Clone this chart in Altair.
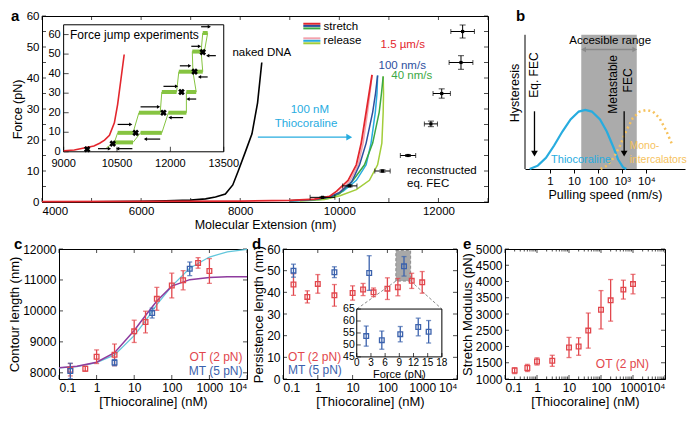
import altair as alt
import pandas as pd

FONT = "Liberation Sans"
RED = "#e3262d"; BLUE = "#2d4f9e"; GREEN = "#3ba844"; PINK = "#f4a3ad"
CYAN = "#27acdf"; YGREEN = "#a2cd3a"; JUMP = "#86c441"; PRED = "#e2474d"
PBLUE = "#3b62ad"; ORANGE = "#f6c25d"; PURPLE = "#8e3b9e"; FITCYAN = "#63c7dc"

# ---------------- panel a : force-extension curves ----------------
naked_ext = [4000, 5000, 6000, 6500, 7000, 7300, 7500, 7700, 7850, 7960, 8100, 8237, 8350, 8435]
naked_F = [0.0, 0.1, 0.2, 0.35, 0.6, 1.0, 1.6, 2.6, 5.5, 10, 16, 22, 32, 45]
red_ext = [4000, 6000, 8000, 9000, 9500, 9800, 9947, 10178, 10343, 10442, 10541, 10610, 10660]
red_F = [0.1, 0.2, 0.3, 0.5, 0.9, 1.8, 3.5, 7, 12, 19, 29, 36, 41]
blue_ext = [9000, 9500, 9800, 10000, 10250, 10409, 10541, 10673, 10730, 10772]
blue_F = [0.4, 0.8, 1.6, 3.0, 6.5, 12, 19, 29, 35, 40.8]
green_ext = [9000, 9500, 9800, 10000, 10277, 10508, 10673, 10805, 10850, 10885]
green_F = [0.4, 0.8, 1.5, 2.6, 7, 12, 19, 29, 35, 40.5]
pink_ext = [9000, 9500, 9800, 10000, 10220, 10380, 10480, 10570, 10625, 10660]
pink_F = [0.3, 0.7, 1.5, 3.2, 7, 12, 19, 29, 36, 41]
cyan_ext = [9000, 9500, 9800, 10079, 10343, 10541, 10640, 10726, 10760, 10772]
cyan_F = [0.3, 0.6, 1.2, 3.5, 7, 12, 19, 29, 35, 40.8]
ygreen_ext = [9200, 9700, 10013, 10343, 10607, 10772, 10858, 10885, 10892, 10885]
ygreen_F = [0.3, 0.8, 2, 4, 7, 12, 19, 29, 35, 40.5]

eq_ext = [9660, 10211, 10871, 11386, 11848, 12066, 12455, 12488]
eq_F = [1.5, 5.2, 10, 15, 25.2, 35, 45, 55]
eq_xerr = [250, 145, 155, 155, 132, 175, 240, 238]
eq_yerr = [0.2, 0.3, 0.4, 0.3, 0.9, 1.5, 2.2, 2.1]

leg_colors = [RED, BLUE, GREEN, PINK, CYAN, YGREEN]
leg_F = [57.5, 56.8, 56.0, 52.8, 52.0, 51.2]
leg_x1 = [9273] * 6
leg_x2 = [9618] * 6

a_text = ["naked DNA", "stretch", "release", "1.5 µm/s", "100 nm/s", "40 nm/s", "reconstructed", "eq. FEC"]
a_text_x = [7842, 9683, 9683, 10832, 10792, 11050, 11366, 11366]
a_text_y = [48, 56.6, 52.0, 50.7, 44, 40.5, 10.1, 5.9]
a_text_c = ["black", "black", "black", RED, BLUE, GREEN, "black", "black"]
a_ctext = ["100 nM", "Thiocoraline"]
a_ctext_x = [9406, 9327]
a_ctext_y = [29.6, 25.1]
a_arrow_x = [8356, 10200]
a_arrow_F = 20.9
a_xticks = [4000, 5000, 6000, 7000, 8000, 9000, 10000, 11000, 12000, 13000]
a_yticks = [0, 5, 10, 15, 20, 25, 30, 35, 40, 45, 50, 55, 60]

# inset of panel a (force jump experiments)
ins_red_ext = [9000, 9300, 9607, 9850, 10012, 10150, 10288, 10426, 10518, 10610, 10702]
ins_red_F = [0.5, 0.9, 2.1, 3.0, 4.4, 6.0, 8.4, 14.8, 24.3, 37, 49.8]
jump_x = [10200, 10426, 10518, 10950, 11116, 11714, 11760, 12174, 12238, 12634, 12616, 12864, 12910,
          13048, 12956, 12864, 12910, 12634, 12726, 12450, 12450, 11944, 11760, 11162, 10950, 10426]
jump_F = [2.0, 4.8, 9.7, 9.7, 20, 20, 30.6, 30.6, 41, 41, 51.3, 51.3, 60.8,
          60.8, 51.3, 51.3, 41, 41, 30.6, 30.6, 20, 20, 9.7, 9.7, 4.8, 4.8]
plat_F = [4.8, 9.7, 9.7, 20, 20, 30.6, 30.6, 41, 41, 51.3, 51.3, 60.8]
plat_x1 = [10426, 10518, 11162, 11116, 11944, 11760, 12450, 12238, 12634, 12616, 12864, 12910]
plat_x2 = [10950, 10950, 11760, 11714, 12450, 12174, 12726, 12634, 12910, 12864, 12956, 13048]
cross_x = [9662, 10380, 11024, 11806, 12312, 12680, 12910]
cross_F = [1.3, 4.2, 9.7, 20, 30.6, 41, 51]
rarr_x1 = [9966, 10518, 11162, 11806, 12266, 12588, 12864]
rarr_x2 = [10288, 10886, 11668, 12174, 12542, 12818, 13094]
rarr_F = [1.6, 14, 23, 33.5, 44, 54, 64]
larr_x1 = [10518, 11300, 11990, 12496, 12818, 13048]
larr_x2 = [10932, 11714, 12358, 12726, 13048, 13278]
larr_F = [1.6, 6.5, 17.5, 27, 38.3, 49.2]
ins_xticks = [9000, 10500, 12000, 13500]
ins_yticks = [0, 10, 20, 30, 40, 50, 60]

# ---------------- panel b : schematic ----------------
thio_v = [0.145, 0.316, 0.69, 1.5, 3.3, 7.2, 15.8, 29.5, 55, 120, 229, 427, 676, 1070, 1480]
thio_h = [0.0, 0.025, 0.083, 0.175, 0.279, 0.37, 0.428, 0.44, 0.428, 0.37, 0.279, 0.164, 0.071, 0.014, 0.0]
mono_v = [126, 234, 437, 813, 1510, 2750, 5370, 10000, 18600, 34700, 64600, 115000]
mono_h = [0.0, 0.025, 0.083, 0.175, 0.29, 0.38, 0.428, 0.44, 0.428, 0.38, 0.29, 0.186]
band_v = [20, 4000]
range_v = [25, 3300]
range_h = 0.89
down_arrow_v = [0.23, 1200]
down_arrow_h = [0.43, 0.115]

# ---------------- panels c, d, e ----------------
conc_ot = [0.2, 0.5, 1, 3, 10, 20, 40, 100, 200, 500, 1000]
conc_mt = [0.2, 3, 30, 300]
c_ot = [8100, 8130, 8520, 8580, 9340, 9640, 10390, 10820, 10990, 11550, 11290]
c_ot_err = [200, 80, 220, 350, 360, 350, 370, 400, 310, 170, 400]
c_mt = [8060, 8330, 9930, 11360]
c_mt_err = [250, 100, 160, 220]
fit_x = [0.1, 0.3, 1, 3, 10, 20, 40, 100, 300, 1000, 3000, 10000]
fit_cyan = [8160, 8200, 8330, 8580, 9200, 9680, 10200, 10800, 11380, 11740, 11910, 11990]
fit_purple = [8160, 8210, 8340, 8650, 9370, 9850, 10320, 10800, 11010, 11080, 11100, 11100]

d_ot = [43.6, 37.9, 43.9, 38.6, 39.7, 41.3, 40.0, 41.7, 42.4, 45.3, 44.6]
d_ot_err = [5, 2.8, 4.3, 5, 3.3, 2.8, 2, 5, 4, 3.5, 5]
d_mt = [50, 49.3, 48.9, 52]
d_mt_err = [3, 2.5, 8, 4.5]
ins_force = [2, 5.3, 9.2, 13, 15.2]
ins_lp = [53.7, 52, 54.5, 57.5, 55.5]
ins_lp_err = [4.2, 3.8, 3.2, 3.7, 4.7]
ins_d_xticks = [0, 3, 6, 9, 12, 15, 18]
ins_d_yticks = [45, 50, 55, 60, 65]
hl_x = [175, 465]
hl_y = [45.2, 59.3]
link_x1 = [175, 465]
link_x2 = [13.2, 3670]
link_y1 = 45.2
link_y2 = 32.3

e_ot = [1260, 1340, 1540, 1560, 1970, 2000, 2490, 3130, 3420, 3750, 3920]
e_ot_err = [90, 110, 110, 170, 310, 270, 540, 590, 640, 290, 300]

conc_ticks = [0.1, 1, 10, 100, 1000, 10000]
conc_minor = [m * d for d in [0.1, 1, 10, 100, 1000] for m in range(2, 10)]
c_yticks = [8000, 9000, 10000, 11000, 12000]
d_yticks = [0, 10, 20, 30, 40, 50, 60]
e_yticks = [1000, 1500, 2000, 2500, 3000, 3500, 4000, 4500, 5000]


# ======================= helpers =======================
def ldf(xs, ys):
    return pd.DataFrame({"x": xs, "y": ys, "o": list(range(len(xs)))})


def letter(t, dx, dy):
    return alt.Chart(pd.DataFrame({"t": [t]})).mark_text(
        font=FONT, fontSize=15, fontWeight="bold", align="left", baseline="middle"
    ).encode(x=alt.value(dx), y=alt.value(dy), text="t:N")


def frame_ticks(xvals, yvals, xlo, xhi, ylo, yhi, X, Y, size=4):
    h = size / 2
    bx_ = pd.DataFrame({"x": xvals, "y": [ylo] * len(xvals)})
    tx_ = pd.DataFrame({"x": xvals, "y": [yhi] * len(xvals)})
    ly_ = pd.DataFrame({"x": [xlo] * len(yvals), "y": yvals})
    ry_ = pd.DataFrame({"x": [xhi] * len(yvals), "y": yvals})
    kw = dict(color="black", thickness=1, size=size)
    out = []
    if xvals:
        out += [alt.Chart(bx_).mark_tick(orient="vertical", yOffset=-h, **kw).encode(x=X("x"), y=Y("y")),
                alt.Chart(tx_).mark_tick(orient="vertical", yOffset=h, **kw).encode(x=X("x"), y=Y("y"))]
    if yvals:
        out += [alt.Chart(ly_).mark_tick(orient="horizontal", xOffset=h, **kw).encode(x=X("x"), y=Y("y")),
                alt.Chart(ry_).mark_tick(orient="horizontal", xOffset=-h, **kw).encode(x=X("x"), y=Y("y"))]
    return out


# ---------------- panel a ----------------
WA, HA = 446, 186
XA = alt.Scale(domain=[4000, 13000], nice=False, zero=False)
YA = alt.Scale(domain=[0, 60], nice=False, zero=False)
AXX = alt.Axis(values=[4000, 6000, 8000, 10000, 12000], format="d", title="Molecular Extension (nm)",
               labelFontSize=11.5, titleFontSize=12.5, ticks=False, labelPadding=3, titlePadding=2)
AXY = alt.Axis(values=[0, 10, 20, 30, 40, 50, 60], title="Force (pN)", labelFontSize=11.5, titleFontSize=12.5,
               ticks=False, labelPadding=3, titlePadding=2)


def ax(f):
    return alt.X(f + ":Q", scale=XA, axis=AXX)


def ay(f):
    return alt.Y(f + ":Q", scale=YA, axis=AXY)


def aline(xs, ys, color, w=1.5):
    return alt.Chart(ldf(xs, ys)).mark_line(color=color, strokeWidth=w).encode(x=ax("x"), y=ay("y"), order="o:Q")


eqdf = pd.DataFrame({"x": eq_ext, "y": eq_F,
                     "xlo": [a - b for a, b in zip(eq_ext, eq_xerr)], "xhi": [a + b for a, b in zip(eq_ext, eq_xerr)],
                     "ylo": [a - b for a, b in zip(eq_F, eq_yerr)], "yhi": [a + b for a, b in zip(eq_F, eq_yerr)]})
legdf = pd.DataFrame({"x": leg_x1, "x2": leg_x2, "y": leg_F, "c": leg_colors})
atdf = pd.DataFrame({"x": a_text_x, "y": a_text_y, "t": a_text, "c": a_text_c})
actdf = pd.DataFrame({"x": a_ctext_x, "y": a_ctext_y, "t": a_ctext})
arrdf = pd.DataFrame({"x": [a_arrow_x[0]], "x2": [a_arrow_x[1]], "y": [a_arrow_F]})
arrhead = pd.DataFrame({"x": [a_arrow_x[1]], "y": [a_arrow_F]})

main_a = alt.layer(
    *frame_ticks(a_xticks, a_yticks, 4000, 13000, 0, 60, ax, ay),
    aline(naked_ext, naked_F, "black", 1.6),
    aline(pink_ext, pink_F, PINK),
    aline(cyan_ext, cyan_F, CYAN),
    aline(ygreen_ext, ygreen_F, YGREEN),
    aline(green_ext, green_F, GREEN),
    aline(blue_ext, blue_F, BLUE),
    aline(red_ext, red_F, RED, 1.8),
    alt.Chart(eqdf).mark_rule(color="black", strokeWidth=1).encode(x=ax("xlo"), x2="xhi:Q", y=ay("y")),
    alt.Chart(eqdf).mark_rule(color="black", strokeWidth=1).encode(x=ax("x"), y=ay("ylo"), y2="yhi:Q"),
    alt.Chart(eqdf).mark_tick(color="black", orient="vertical", size=5, thickness=1).encode(x=ax("xlo"), y=ay("y")),
    alt.Chart(eqdf).mark_tick(color="black", orient="vertical", size=5, thickness=1).encode(x=ax("xhi"), y=ay("y")),
    alt.Chart(eqdf).mark_tick(color="black", orient="horizontal", size=6, thickness=1).encode(x=ax("x"), y=ay("ylo")),
    alt.Chart(eqdf).mark_tick(color="black", orient="horizontal", size=6, thickness=1).encode(x=ax("x"), y=ay("yhi")),
    alt.Chart(eqdf).mark_square(color="black", size=10, opacity=1).encode(x=ax("x"), y=ay("y")),
    alt.Chart(legdf).mark_rule(strokeWidth=2).encode(x=ax("x"), x2="x2:Q", y=ay("y"), color=alt.Color("c:N", scale=None)),
    alt.Chart(atdf).mark_text(font=FONT, fontSize=11.5, align="left", baseline="middle").encode(
        x=ax("x"), y=ay("y"), text="t:N", color=alt.Color("c:N", scale=None)),
    alt.Chart(actdf).mark_text(font=FONT, fontSize=11.5, align="center", baseline="middle", color=CYAN).encode(
        x=ax("x"), y=ay("y"), text="t:N"),
    alt.Chart(arrdf).mark_rule(color=CYAN, strokeWidth=1.3).encode(x=ax("x"), x2="x2:Q", y=ay("y")),
    alt.Chart(arrhead).mark_point(shape="triangle-right", filled=True, color=CYAN, size=45, opacity=1).encode(
        x=ax("x"), y=ay("y")),
    letter("a", -31, 0),
)

XI = alt.Scale(domain=[8392, 20927], nice=False, zero=False)
YI = alt.Scale(domain=[-25.7, 69.5], nice=False, zero=False)


def ix(f):
    return alt.X(f + ":Q", scale=XI, axis=None)


def iy(f):
    return alt.Y(f + ":Q", scale=YI, axis=None)


boxdf = pd.DataFrame({"x": [9000], "x2": [13500], "y": [0], "y2": [65]})
ixt = pd.DataFrame({"x": ins_xticks, "y": [0] * 4, "t": [str(v) for v in ins_xticks]})
iyt = pd.DataFrame({"x": [9000] * 7, "y": ins_yticks, "t": [str(v) for v in ins_yticks]})
platdf = pd.DataFrame({"x": plat_x1, "x2": plat_x2, "y": plat_F})
rdf = pd.DataFrame({"x": rarr_x1, "x2": rarr_x2, "y": rarr_F})
ldf_ = pd.DataFrame({"x": larr_x1, "x2": larr_x2, "y": larr_F})
crossdf = pd.DataFrame({"x": cross_x, "y": cross_F})

inset_a = alt.layer(
    alt.Chart(boxdf).mark_rect(fill="white", stroke="black", strokeWidth=1).encode(
        x=ix("x"), x2="x2:Q", y=iy("y"), y2="y2:Q"),
    alt.Chart(iyt).mark_tick(orient="horizontal", size=5, thickness=1, color="black", xOffset=2.5).encode(
        x=ix("x"), y=iy("y")),
    alt.Chart(ixt).mark_tick(orient="vertical", size=5, thickness=1, color="black", yOffset=-2.5).encode(
        x=ix("x"), y=iy("y")),
    alt.Chart(iyt).mark_text(font=FONT, fontSize=11, align="right", baseline="middle", dx=-3).encode(
        x=ix("x"), y=iy("y"), text="t:N"),
    alt.Chart(ixt).mark_text(font=FONT, fontSize=11, align="center", baseline="top", dy=6).encode(
        x=ix("x"), y=iy("y"), text="t:N"),
    alt.Chart(ldf(ins_red_ext, ins_red_F)).mark_line(color=RED, strokeWidth=1.6).encode(
        x=ix("x"), y=iy("y"), order="o:Q"),
    alt.Chart(ldf(jump_x, jump_F)).mark_line(color=JUMP, strokeWidth=1).encode(x=ix("x"), y=iy("y"), order="o:Q"),
    alt.Chart(platdf).mark_rule(color=JUMP, strokeWidth=4).encode(x=ix("x"), x2="x2:Q", y=iy("y")),
    alt.Chart(rdf).mark_rule(color="black", strokeWidth=1.2).encode(x=ix("x"), x2="x2:Q", y=iy("y")),
    alt.Chart(rdf).mark_point(shape="triangle-right", filled=True, color="black", size=14, opacity=1).encode(
        x=ix("x2"), y=iy("y")),
    alt.Chart(ldf_).mark_rule(color="black", strokeWidth=1.2).encode(x=ix("x"), x2="x2:Q", y=iy("y")),
    alt.Chart(ldf_).mark_point(shape="triangle-left", filled=True, color="black", size=14, opacity=1).encode(
        x=ix("x"), y=iy("y")),
    alt.Chart(crossdf).mark_point(shape="cross", angle=45, filled=True, color="black", size=45, opacity=1).encode(
        x=ix("x"), y=iy("y")),
    alt.Chart(pd.DataFrame({"x": [9180], "y": [60], "t": ["Force jump experiments"]})).mark_text(
        font=FONT, fontSize=12, align="left", baseline="middle").encode(x=ix("x"), y=iy("y"), text="t:N"),
)

panel_a = alt.layer(main_a, inset_a).resolve_scale(x="independent", y="independent").properties(
    width=WA, height=HA)

# ---------------- panel b ----------------
XB = alt.Scale(type="log", domain=[0.093, 400000], nice=False)
YB = alt.Scale(domain=[0, 1.14], nice=False, zero=False)
BAXX = alt.Axis(values=[1, 10, 100, 1000, 10000], title="Pulling speed (nm/s)", labelFontSize=11.5,
                titleFontSize=12.5, titlePadding=2, tickSize=4, labelPadding=2,
                labelExpr="datum.value == 1000 ? '10³' : datum.value == 10000 ? '10⁴' : format(datum.value, 'd')")
BAXY = alt.Axis(labels=False, ticks=False, domain=False, title="Hysteresis", titleFontSize=12.5, titlePadding=4)


def bx(f):
    return alt.X(f + ":Q", scale=XB, axis=BAXX)


def by(f):
    return alt.Y(f + ":Q", scale=YB, axis=BAXY)


banddf = pd.DataFrame({"x": [band_v[0]], "x2": [band_v[1]], "y": [0], "y2": [1]})
rangedf = pd.DataFrame({"x": [range_v[0]], "x2": [range_v[1]], "y": [range_h]})
dadf = pd.DataFrame({"x": down_arrow_v, "y": [down_arrow_h[0]] * 2, "y2": [down_arrow_h[1]] * 2})
btxt_rot = pd.DataFrame({"x": [0.23, 427, 1740], "y": [0.70, 0.63, 0.66], "t": ["Eq. FEC", "Metastable", "FEC"]})

panel_b = alt.layer(
    alt.Chart(pd.DataFrame({"y": [0], "y2": [1]})).mark_rule(color="black", strokeWidth=1).encode(
        x=alt.value(0), y=by("y"), y2="y2:Q"),
    alt.Chart(banddf).mark_rect(color="#ababab").encode(x=bx("x"), x2="x2:Q", y=by("y"), y2="y2:Q"),
    alt.Chart(rangedf).mark_rule(color="#8a8a8a", strokeWidth=1.5).encode(x=bx("x"), x2="x2:Q", y=by("y")),
    alt.Chart(rangedf).mark_point(shape="triangle-left", filled=True, color="#8a8a8a", size=30, opacity=1).encode(
        x=bx("x"), y=by("y")),
    alt.Chart(rangedf).mark_point(shape="triangle-right", filled=True, color="#8a8a8a", size=30, opacity=1).encode(
        x=bx("x2"), y=by("y")),
    alt.Chart(pd.DataFrame({"x": [316], "y": [0.955], "t": ["Accesible range"]})).mark_text(
        font=FONT, fontSize=11.5, baseline="middle").encode(x=bx("x"), y=by("y"), text="t:N"),
    alt.Chart(ldf(thio_v, thio_h)).mark_line(color=CYAN, strokeWidth=2.2).encode(x=bx("x"), y=by("y"), order="o:Q"),
    alt.Chart(ldf(mono_v, mono_h)).mark_line(color=ORANGE, strokeWidth=2.5, strokeDash=[2, 3]).encode(
        x=bx("x"), y=by("y"), order="o:Q"),
    alt.Chart(dadf).mark_rule(color="black", strokeWidth=1.3).encode(x=bx("x"), y=by("y"), y2="y2:Q"),
    alt.Chart(dadf).mark_point(shape="triangle-down", filled=True, color="black", size=45, opacity=1).encode(
        x=bx("x"), y=by("y2")),
    alt.Chart(btxt_rot).mark_text(font=FONT, fontSize=12, angle=270, baseline="middle").encode(
        x=bx("x"), y=by("y"), text="t:N"),
    alt.Chart(pd.DataFrame({"x": [19.5], "y": [0.07], "t": ["Thiocoraline"]})).mark_text(
        font=FONT, fontSize=11, baseline="middle", color=CYAN).encode(x=bx("x"), y=by("y"), text="t:N"),
    alt.Chart(pd.DataFrame({"x": [2000, 2000], "y": [0.17, 0.07], "t": ["Mono-", "intercalators"]})).mark_text(
        font=FONT, fontSize=10.5, baseline="middle", align="left", color=ORANGE).encode(
        x=bx("x"), y=by("y"), text="t:N"),
    letter("b", -9, 0),
).properties(width=160, height=153, view=alt.ViewBackground(stroke="transparent"))

# ---------------- panels c, d, e ----------------
HB = 130
LOGS = alt.Scale(type="log", domain=[0.1, 10000], nice=False)
LEXPR = "datum.value >= 9999 ? '10⁴' : datum.value < 0.5 ? '0.1' : format(datum.value, 'd')"


def log_axis():
    return alt.Axis(values=conc_ticks, labelExpr=LEXPR, title="[Thiocoraline] (nM)",
                    labelFontSize=12, titleFontSize=13, ticks=False, labelPadding=3, titlePadding=2)


def err_layers(xs, ys, es, color, X, Y):
    df = pd.DataFrame({"x": xs, "y": ys, "lo": [a - b for a, b in zip(ys, es)],
                       "hi": [a + b for a, b in zip(ys, es)]})
    return [
        alt.Chart(df).mark_rule(color=color, strokeWidth=1.3).encode(x=X("x"), y=Y("lo"), y2="hi:Q"),
        alt.Chart(df).mark_tick(color=color, orient="horizontal", size=5, thickness=1.3).encode(x=X("x"), y=Y("lo")),
        alt.Chart(df).mark_tick(color=color, orient="horizontal", size=5, thickness=1.3).encode(x=X("x"), y=Y("hi")),
        alt.Chart(df).mark_point(shape="square", color=color, filled=False, size=22, strokeWidth=1.3,
                                 opacity=1).encode(x=X("x"), y=Y("y")),
    ]


CY = alt.Scale(domain=[7800, 12000], nice=False, zero=False)
CAY = alt.Axis(values=c_yticks, format="d", title="Contour length (nm)",
               labelFontSize=12, titleFontSize=13, ticks=False, labelPadding=3, titlePadding=1)
CAX = log_axis()


def cx(f):
    return alt.X(f + ":Q", scale=LOGS, axis=CAX)


def cy(f):
    return alt.Y(f + ":Q", scale=CY, axis=CAY)


ctext = pd.DataFrame({"x": [7600, 7600], "y": [8510, 8060], "t": ["OT (2 pN)", "MT (5 pN)"], "c": [PRED, PBLUE]})
panel_c = alt.layer(
    *frame_ticks(conc_ticks, c_yticks, 0.1, 10000, 7800, 12000, cx, cy),
    alt.Chart(ldf(fit_x, fit_cyan)).mark_line(color=FITCYAN, strokeWidth=1.3).encode(x=cx("x"), y=cy("y"), order="o:Q"),
    alt.Chart(ldf(fit_x, fit_purple)).mark_line(color=PURPLE, strokeWidth=1.5).encode(x=cx("x"), y=cy("y"), order="o:Q"),
    *err_layers(conc_ot, c_ot, c_ot_err, PRED, cx, cy),
    *err_layers(conc_mt, c_mt, c_mt_err, PBLUE, cx, cy),
    alt.Chart(ctext).mark_text(font=FONT, fontSize=12, align="right", baseline="middle").encode(
        x=cx("x"), y=cy("y"), text="t:N", color=alt.Color("c:N", scale=None)),
    letter("c", -45, -5),
).properties(width=188, height=HB)

DY = alt.Scale(domain=[0, 60], nice=False, zero=False)
DAY = alt.Axis(values=d_yticks, title="Persistence length (nm)", labelFontSize=12,
               titleFontSize=13, ticks=False, labelPadding=3, titlePadding=1)
DAX = log_axis()


def dx_(f):
    return alt.X(f + ":Q", scale=LOGS, axis=DAX)


def dy_(f):
    return alt.Y(f + ":Q", scale=DY, axis=DAY)


hldf = pd.DataFrame({"x": [hl_x[0]], "x2": [hl_x[1]], "y": [hl_y[0]], "y2": [hl_y[1]]})
linkdf = pd.DataFrame({"x": link_x1, "x2": link_x2, "y": [link_y1] * 2, "y2": [link_y2] * 2})
dtext = pd.DataFrame({"x": [0.14, 0.14], "y": [10, 4.0], "t": ["OT (2 pN)", "MT (5 pN)"], "c": [PRED, PBLUE]})
main_d = alt.layer(
    *frame_ticks(conc_ticks, d_yticks, 0.1, 10000, 0, 60, dx_, dy_),
    alt.Chart(hldf).mark_rect(fill="#a8a8a8", stroke="#8c8c8c", strokeDash=[3, 2], strokeWidth=1).encode(
        x=dx_("x"), x2="x2:Q", y=dy_("y"), y2="y2:Q"),
    alt.Chart(linkdf).mark_rule(color="#8c8c8c", strokeDash=[3, 2], strokeWidth=1).encode(
        x=dx_("x"), x2="x2:Q", y=dy_("y"), y2="y2:Q"),
    *err_layers(conc_ot, d_ot, d_ot_err, PRED, dx_, dy_),
    *err_layers(conc_mt, d_mt, d_mt_err, PBLUE, dx_, dy_),
    alt.Chart(dtext).mark_text(font=FONT, fontSize=12, align="left", baseline="middle").encode(
        x=dx_("x"), y=dy_("y"), text="t:N", color=alt.Color("c:N", scale=None)),
    letter("d", -31, -5),
)

XDI = alt.Scale(domain=[-15.6, 21.2], nice=False, zero=False)
YDI = alt.Scale(domain=[35.76, 90.1], nice=False, zero=False)


def dix(f):
    return alt.X(f + ":Q", scale=XDI, axis=None)


def diy(f):
    return alt.Y(f + ":Q", scale=YDI, axis=None)


dbox = pd.DataFrame({"x": [0], "x2": [18], "y": [45], "y2": [65]})
dxt = pd.DataFrame({"x": ins_d_xticks, "y": [45] * 7, "t": [str(v) for v in ins_d_xticks]})
dyt = pd.DataFrame({"x": [0] * 5, "y": ins_d_yticks, "t": [str(v) for v in ins_d_yticks]})
inset_d = alt.layer(
    alt.Chart(dbox).mark_rect(fill="white", stroke="black", strokeWidth=1).encode(
        x=dix("x"), x2="x2:Q", y=diy("y"), y2="y2:Q"),
    alt.Chart(dyt).mark_tick(orient="horizontal", size=4, thickness=1, color="black", xOffset=2).encode(
        x=dix("x"), y=diy("y")),
    alt.Chart(dxt).mark_tick(orient="vertical", size=4, thickness=1, color="black", yOffset=-2).encode(
        x=dix("x"), y=diy("y")),
    alt.Chart(dyt).mark_text(font=FONT, fontSize=10.5, align="right", baseline="middle", dx=-2).encode(
        x=dix("x"), y=diy("y"), text="t:N"),
    alt.Chart(dxt).mark_text(font=FONT, fontSize=10, align="center", baseline="top", dy=1).encode(
        x=dix("x"), y=diy("y"), text="t:N"),
    alt.Chart(pd.DataFrame({"x": [9], "y": [45], "t": ["Force (pN)"]})).mark_text(
        font=FONT, fontSize=11, align="center", baseline="top", dy=12.5).encode(x=dix("x"), y=diy("y"), text="t:N"),
    *err_layers(ins_force, ins_lp, ins_lp_err, PBLUE, dix, diy),
)
panel_d = alt.layer(main_d, inset_d).resolve_scale(x="independent", y="independent").properties(
    width=174, height=HB)

EY = alt.Scale(domain=[1000, 5000], nice=False, zero=False)
EAY = alt.Axis(values=e_yticks, format="d", title="Stretch Modulus (pN)", labelFontSize=12, titleFontSize=13,
               ticks=False, labelPadding=3, titlePadding=1)
EAX = log_axis()


def ex(f):
    return alt.X(f + ":Q", scale=LOGS, axis=EAX)


def ey(f):
    return alt.Y(f + ":Q", scale=EY, axis=EAY)


etext = pd.DataFrame({"x": [3160], "y": [1457], "t": ["OT (2 pN)"]})
panel_e = alt.layer(
    *frame_ticks(conc_ticks, e_yticks, 0.1, 10000, 1000, 5000, ex, ey),
    *frame_ticks(conc_minor, [], 0.1, 10000, 1000, 5000, ex, ey, size=2.5),
    *err_layers(conc_ot, e_ot, e_ot_err, PRED, ex, ey),
    alt.Chart(etext).mark_text(font=FONT, fontSize=12, align="right", baseline="middle", color=PRED).encode(
        x=ex("x"), y=ey("y"), text="t:N"),
    letter("e", -42, -5),
).properties(width=160, height=HB)

# an empty, invisible first cell lets the lower row start left of panel a's frame
spacer = alt.Chart(pd.DataFrame({"t": [""]})).mark_text().encode(text="t:N").properties(
    width=1, height=HB, view=alt.ViewBackground(stroke="transparent"))

top = alt.hconcat(panel_a, panel_b, spacing=18)
lower = alt.hconcat(alt.hconcat(panel_c, panel_d, spacing=0), panel_e, spacing=2)
bottom = alt.hconcat(spacer, lower, spacing=-36)

chart = alt.vconcat(top, bottom, spacing=4).properties(padding=0).configure(
    font=FONT).configure_axis(
    labelFont=FONT, titleFont=FONT, labelColor="black", titleColor="black", domainColor="black",
    tickColor="black", grid=False, titleFontWeight="normal", tickSize=0, labelPadding=2, titlePadding=3
).configure_view(stroke="black", strokeWidth=1)

chart.save("out.html", embed_options={"renderer": "svg", "actions": False})
